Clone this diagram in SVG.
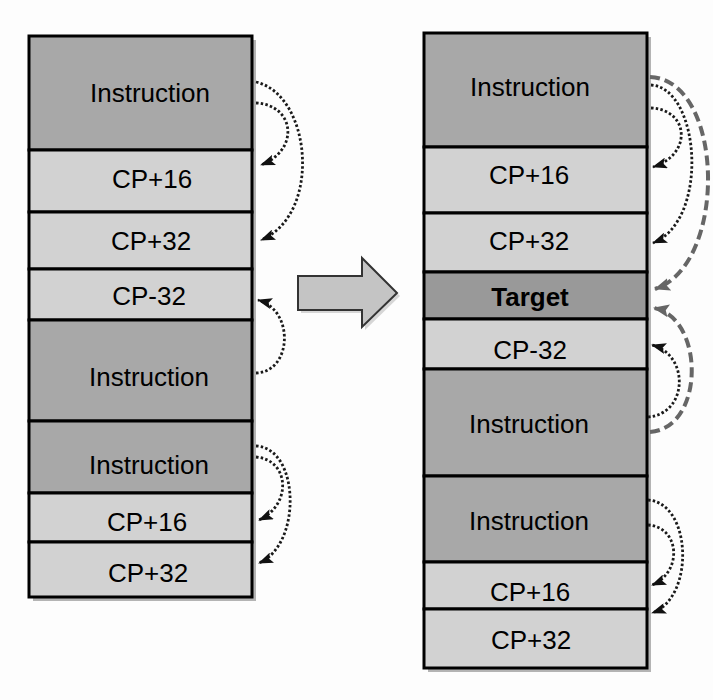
<svg xmlns="http://www.w3.org/2000/svg" width="713" height="700" viewBox="0 0 713 700">
  <style>
    .instr { fill: #a8a8a8; stroke: #000; stroke-width: 3; }
    .cp { fill: #d2d2d2; stroke: #000; stroke-width: 3; }
    .target { fill: #999999; stroke: #000; stroke-width: 3; }
    .shadow { fill: #b4b4b4; }
    text { font-family: "Liberation Sans", Arial, sans-serif; font-size: 26px; fill: #000; text-anchor: middle; }
    .bold { font-weight: bold; }
    .dot { fill: none; stroke: #1a1a1a; stroke-width: 2.8; stroke-dasharray: 2.5 2.2; marker-end: url(#headBlack); }
    .dash { fill: none; stroke: #666; stroke-width: 4; stroke-dasharray: 10 5; marker-end: url(#headGray); }
  </style>
  <defs>
    <marker id="headBlack" markerUnits="userSpaceOnUse" markerWidth="15" markerHeight="11" viewBox="0 0 15 11" refX="14" refY="5.5" orient="auto">
      <path d="M0,0 L15,5.5 L0,11 L3,5.5 z" fill="#111"/>
    </marker>
    <marker id="headGray" markerUnits="userSpaceOnUse" markerWidth="16" markerHeight="13" viewBox="0 0 16 13" refX="15" refY="6.5" orient="auto">
      <path d="M0,0 L16,6.5 L0,13 L3,6.5 z" fill="#666"/>
    </marker>
  </defs>

  <rect width="713" height="700" fill="#fdfdfd"/>

  <!-- column shadows -->
  <rect class="shadow" x="33" y="40" width="223" height="561"/>
  <rect class="shadow" x="428" y="37" width="223" height="635"/>

  <!-- left column -->
  <g id="left-column">
    <g id="l-instr-1"><rect class="instr" x="29" y="36" width="223" height="114"/><text x="150" y="102">Instruction</text></g>
    <g id="l-cp16-1"><rect class="cp" x="29" y="150" width="223" height="62"/><text x="152" y="188">CP+16</text></g>
    <g id="l-cp32-1"><rect class="cp" x="29" y="212" width="223" height="57"/><text x="151" y="250">CP+32</text></g>
    <g id="l-cpm32"><rect class="cp" x="29" y="269" width="223" height="51"/><text x="149" y="305">CP-32</text></g>
    <g id="l-instr-2"><rect class="instr" x="29" y="320" width="223" height="101"/><text x="149" y="386">Instruction</text></g>
    <g id="l-instr-3"><rect class="instr" x="29" y="421" width="223" height="72"/><text x="149" y="474">Instruction</text></g>
    <g id="l-cp16-2"><rect class="cp" x="29" y="493" width="223" height="49"/><text x="147" y="531">CP+16</text></g>
    <g id="l-cp32-2"><rect class="cp" x="29" y="542" width="223" height="55"/><text x="148" y="582">CP+32</text></g>
  </g>

  <!-- right column -->
  <g id="right-column">
    <g id="r-instr-1"><rect class="instr" x="424" y="33" width="223" height="114"/><text x="530" y="96">Instruction</text></g>
    <g id="r-cp16-1"><rect class="cp" x="424" y="147" width="223" height="66"/><text x="529" y="184">CP+16</text></g>
    <g id="r-cp32-1"><rect class="cp" x="424" y="213" width="223" height="59"/><text x="529" y="250">CP+32</text></g>
    <g id="r-target"><rect class="target" x="424" y="272" width="223" height="47"/><text class="bold" x="530" y="306">Target</text></g>
    <g id="r-cpm32"><rect class="cp" x="424" y="319" width="223" height="50"/><text x="530" y="359">CP-32</text></g>
    <g id="r-instr-2"><rect class="instr" x="424" y="369" width="223" height="107"/><text x="529" y="433">Instruction</text></g>
    <g id="r-instr-3"><rect class="instr" x="424" y="476" width="223" height="86"/><text x="529" y="530">Instruction</text></g>
    <g id="r-cp16-2"><rect class="cp" x="424" y="562" width="223" height="47"/><text x="530" y="601">CP+16</text></g>
    <g id="r-cp32-2"><rect class="cp" x="424" y="609" width="223" height="59"/><text x="531" y="649">CP+32</text></g>
  </g>

  <!-- transform arrow between the columns -->
  <g id="transform-arrow">
    <path d="M301,279 L365,279 L365,261 L400,296 L365,330 L365,313 L301,313 z" fill="#bdbdbd" opacity="0.6"/>
    <path d="M298,276 L362,276 L362,258 L397,293 L362,327 L362,310 L298,310 z" fill="#c4c4c4" stroke="#333" stroke-width="2"/>
  </g>

  <!-- connectors -->
  <g id="connectors">
    <path class="dot" d="M256,82 C312,95 322,215 261,240"/>
    <path class="dot" d="M256,103 C295,105 300,150 261,165"/>
    <path class="dot" d="M256,373 C292,372 295,310 258,300"/>
    <path class="dot" d="M256,446 C300,448 302,545 259,563"/>
    <path class="dot" d="M256,457 C290,460 292,505 259,520"/>

    <path class="dash" d="M650,77 C725,80 728,265 655,289"/>
    <path class="dot" d="M651,85 C700,88 710,220 653,243"/>
    <path class="dot" d="M651,108 C690,110 692,155 653,167"/>
    <path class="dash" d="M650,432 C705,428 705,318 654,308"/>
    <path class="dot" d="M648,417 C688,414 690,355 652,345"/>
    <path class="dot" d="M648,500 C692,503 695,598 652,613"/>
    <path class="dot" d="M648,525 C680,527 683,572 652,585"/>
  </g>
</svg>
